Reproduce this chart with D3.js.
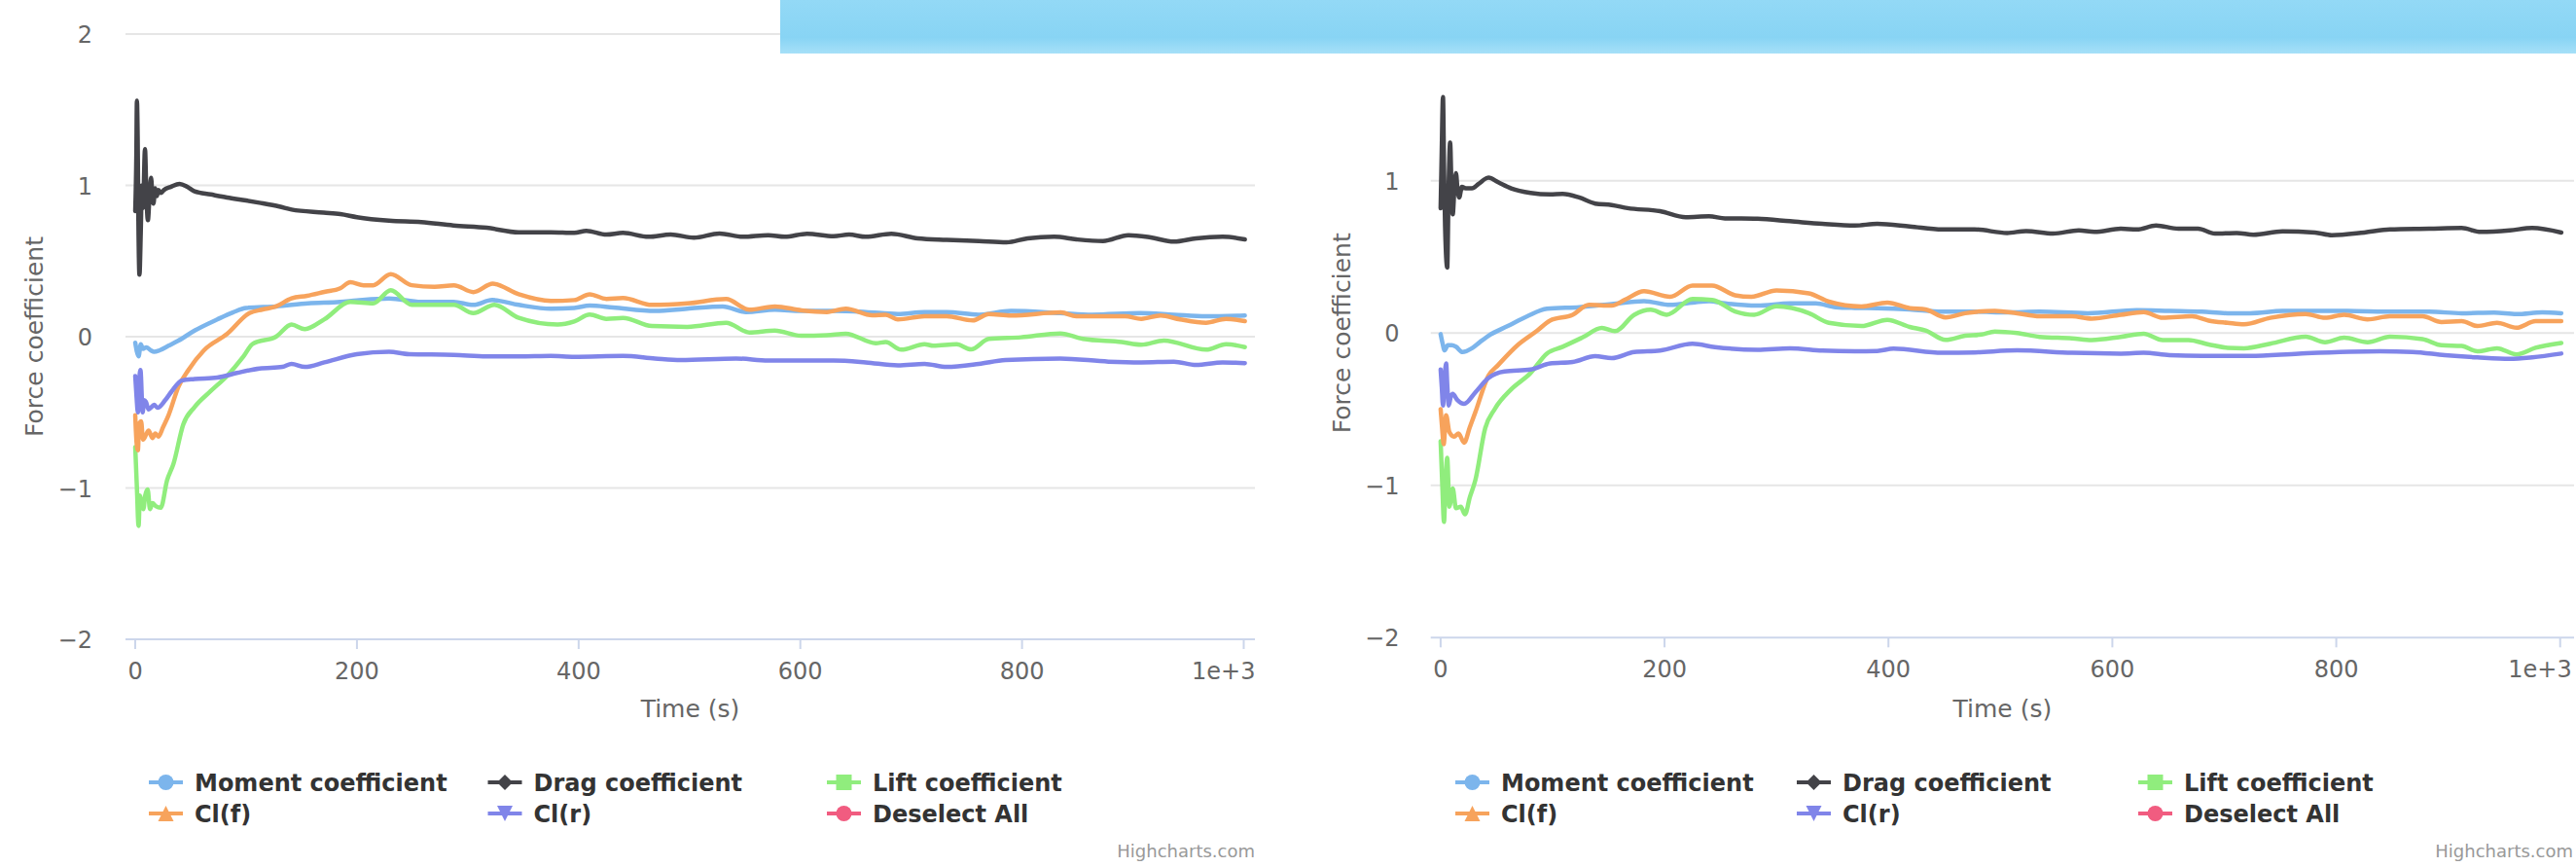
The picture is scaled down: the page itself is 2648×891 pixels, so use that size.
<!DOCTYPE html>
<html>
<head>
<meta charset="utf-8">
<script src="https://cdn.jsdelivr.net/npm/d3@7"></script>
<style>
  html, body { margin: 0; padding: 0; background: #fff; }
  svg { display: block; }
</style>
</head>
<body>
<div id="chart"></div>
<script>
// Force coefficients vs time, two runs side by side (Highcharts look)

const xTicks = [0, 200, 400, 600, 800, 1000];
const yTicks = [-2, -1, 0, 1, 2];

// ---- left run: [time, value]
const momentA = [[0,-0.04],[1.5,-0.10],[3,-0.13],[5,-0.05],[7,-0.08],[10,-0.07],[14,-0.09],[17,-0.10],[22,-0.09],[30,-0.06],[39,-0.026],[53.5,0.04],[74,0.114],[88,0.16],[100,0.19],[127,0.20],[156,0.22],[185,0.23],[200,0.24],[229,0.253],[258,0.23],[287,0.23],[305,0.21],[322,0.242],[346,0.21],[375,0.185],[396,0.19],[410,0.205],[431,0.193],[469,0.17],[498,0.185],[530,0.20],[551,0.163],[577,0.178],[601,0.17],[630,0.17],[659,0.163],[688,0.15],[712,0.163],[732,0.163],[761,0.145],[790,0.17],[834,0.156],[863,0.145],[907,0.156],[937,0.145],[966,0.135],[1001,0.14]];
const dragA = [[0,0.83],[1,1.2],[1.5,1.56],[2.2,1.3],[2.8,0.8],[3.8,0.41],[5,0.7],[6,1.0],[7,0.85],[8.8,1.24],[10,0.95],[11.4,0.77],[13,0.95],[14.3,1.05],[15.5,0.92],[16.4,0.88],[18,0.98],[19.5,0.93],[21,0.97],[23,0.95],[26,0.97],[32,0.99],[40,1.01],[47,0.99],[53.5,0.96],[68,0.94],[82.8,0.92],[100,0.90],[112,0.885],[130,0.86],[141,0.84],[170,0.82],[185,0.81],[200,0.79],[229,0.767],[258,0.757],[287,0.735],[317,0.72],[346,0.69],[375,0.69],[396,0.686],[407,0.70],[425,0.675],[440,0.686],[463,0.66],[483,0.675],[504,0.654],[527,0.682],[548,0.66],[571,0.671],[586,0.66],[606,0.68],[630,0.664],[644,0.675],[659,0.66],[682,0.68],[706,0.65],[732,0.64],[761,0.632],[786,0.624],[805,0.65],[829,0.66],[849,0.643],[873,0.632],[896,0.671],[916,0.656],[937,0.628],[957,0.65],[981,0.66],[1001,0.643]];
const liftA = [[0,-0.73],[1.5,-1.0],[3,-1.25],[4.2,-1.05],[5.3,-1.08],[7.3,-1.14],[9,-1.05],[11.2,-1.01],[13.3,-1.14],[15.5,-1.10],[18.5,-1.12],[23,-1.13],[28.7,-0.95],[34.5,-0.84],[43.3,-0.58],[53.5,-0.465],[68,-0.36],[82.7,-0.26],[97.4,-0.133],[106,-0.047],[127,0.0],[141,0.08],[153,0.05],[170.6,0.115],[194,0.23],[214.6,0.22],[230.5,0.307],[249.5,0.21],[287.5,0.21],[305,0.156],[324,0.21],[346,0.124],[381,0.08],[396,0.10],[410,0.146],[425,0.118],[440,0.124],[466,0.07],[498,0.065],[533,0.092],[554,0.028],[577,0.04],[600.5,0.006],[624,0.01],[641,0.02],[668,-0.043],[677,-0.036],[691,-0.086],[712,-0.05],[720,-0.06],[741,-0.05],[754,-0.084],[770,-0.015],[799,-0.004],[834.5,0.021],[855,-0.015],[890,-0.036],[907.6,-0.053],[928,-0.026],[966,-0.086],[984,-0.05],[1001,-0.069]];
const clfA = [[0,-0.52],[1.2,-0.70],[2.4,-0.75],[3.5,-0.58],[5.3,-0.56],[7,-0.68],[9.6,-0.65],[12,-0.62],[15.5,-0.67],[18,-0.64],[21,-0.66],[25,-0.60],[30,-0.52],[39,-0.33],[48,-0.22],[62,-0.09],[82.7,0.017],[103,0.156],[115,0.18],[127,0.20],[141,0.253],[155,0.27],[170.6,0.296],[185,0.32],[194,0.36],[206,0.34],[214.6,0.34],[230.5,0.413],[249.5,0.34],[270,0.33],[287.5,0.34],[305,0.295],[322.6,0.35],[346,0.28],[375,0.236],[396,0.242],[410,0.28],[425,0.25],[440,0.256],[466,0.21],[498,0.22],[533,0.249],[554,0.178],[577,0.20],[601,0.174],[624,0.163],[641,0.185],[665,0.141],[677,0.145],[688,0.114],[712,0.135],[732,0.135],[755.5,0.107],[770,0.15],[790,0.14],[835,0.16],[849,0.135],[893,0.135],[907.6,0.118],[925,0.14],[942.6,0.114],[966,0.092],[984,0.118],[1001,0.103]];
const clrA = [[0,-0.26],[1.2,-0.40],[2.4,-0.50],[3.5,-0.30],[4.7,-0.22],[6.7,-0.50],[8,-0.42],[9.6,-0.43],[12,-0.48],[14,-0.47],[17,-0.45],[20,-0.47],[27,-0.42],[33,-0.36],[41.9,-0.29],[53.5,-0.28],[74,-0.27],[91.6,-0.24],[112,-0.21],[132.7,-0.20],[141,-0.18],[153,-0.20],[170.6,-0.17],[199.8,-0.116],[229,-0.10],[247,-0.116],[287.5,-0.12],[317,-0.13],[346,-0.13],[375,-0.127],[396,-0.133],[440,-0.127],[469,-0.144],[492,-0.154],[542,-0.144],[571,-0.158],[630,-0.158],[659,-0.17],[688,-0.19],[712,-0.18],[732,-0.20],[761,-0.18],[785,-0.154],[834.5,-0.144],[878,-0.165],[907.6,-0.17],[937,-0.165],[957,-0.187],[981,-0.17],[1001,-0.175]];

// ---- right run
const momentB = [[0,-0.007],[1.5,-0.06],[3.6,-0.114],[6.4,-0.08],[10,-0.08],[13.7,-0.09],[19.5,-0.125],[28,-0.10],[35,-0.06],[42.7,-0.018],[60,0.046],[77.4,0.11],[95,0.159],[124,0.17],[152.8,0.19],[181.7,0.21],[205,0.185],[225,0.20],[240,0.21],[254,0.195],[283,0.18],[312,0.195],[335,0.195],[353,0.17],[370,0.165],[390,0.163],[419,0.155],[448,0.14],[477,0.14],[506,0.135],[535,0.14],[578,0.13],[622,0.15],[651,0.145],[680,0.14],[703,0.13],[723,0.13],[752,0.145],[781,0.146],[810,0.145],[854,0.14],[883,0.14],[912,0.13],[941,0.134],[961,0.124],[984,0.135],[1001,0.13]];
const dragB = [[0,0.82],[1,1.2],[2.1,1.55],[3,1.1],[4,0.7],[5.9,0.43],[7,0.9],[8.5,1.25],[9.7,0.95],[10.8,0.78],[12.3,0.95],[13.7,1.05],[15,0.95],[16.6,0.89],[19,0.96],[22.4,0.95],[28,0.95],[34,0.98],[42.7,1.02],[51.4,0.99],[63,0.95],[80.3,0.92],[97.7,0.91],[109,0.913],[123.7,0.89],[138,0.85],[152.8,0.84],[167,0.82],[196,0.80],[219,0.76],[239.7,0.766],[254,0.753],[283,0.75],[312,0.734],[341,0.717],[370,0.706],[390,0.717],[419,0.70],[448,0.68],[477,0.68],[506,0.657],[523,0.67],[547,0.653],[570,0.674],[584,0.664],[607.5,0.685],[622,0.68],[639,0.706],[659,0.685],[676.5,0.685],[691.6,0.653],[711,0.657],[726,0.646],[752,0.668],[781,0.66],[796,0.642],[825,0.66],[848,0.68],[883,0.685],[912,0.69],[929,0.664],[955,0.674],[975,0.69],[1001,0.66]];
const liftB = [[0,-0.71],[1.5,-1.0],[3,-1.24],[4.5,-0.95],[5.9,-0.82],[7.8,-1.14],[10.8,-1.02],[13.7,-1.15],[18,-1.14],[21.8,-1.19],[26,-1.08],[31,-0.966],[39.8,-0.625],[48.5,-0.497],[63,-0.37],[80.3,-0.263],[94.8,-0.135],[109,-0.09],[126.7,-0.029],[144,0.033],[155.6,0.012],[173,0.12],[187.6,0.153],[202,0.12],[225,0.223],[242.5,0.217],[263,0.142],[280,0.12],[300,0.175],[329,0.13],[346.8,0.067],[375.8,0.046],[399,0.087],[419,0.04],[433.7,0.015],[451,-0.045],[468.5,-0.018],[483,-0.01],[495,0.01],[515,0.0],[535,-0.025],[564,-0.035],[581.5,-0.046],[607.5,-0.025],[628,-0.004],[645,-0.046],[668,-0.046],[686,-0.075],[703,-0.097],[717.6,-0.10],[741,-0.07],[772.7,-0.024],[790,-0.06],[807,-0.03],[828,-0.06],[848,-0.024],[877,-0.04],[894,-0.08],[912,-0.085],[926,-0.12],[943.6,-0.10],[961,-0.14],[978,-0.097],[1001,-0.065]];
const clfB = [[0,-0.50],[1.3,-0.62],[2.7,-0.73],[4.9,-0.54],[7.8,-0.65],[12,-0.68],[16,-0.66],[21,-0.72],[26,-0.62],[31,-0.52],[42.7,-0.28],[51.4,-0.21],[68.7,-0.08],[86,0.014],[97.7,0.082],[118,0.12],[132.4,0.185],[152.8,0.18],[165,0.22],[181.7,0.274],[205,0.238],[225,0.312],[242.5,0.312],[263,0.248],[277.7,0.238],[300,0.28],[329,0.26],[346.8,0.206],[375.8,0.174],[399,0.20],[419,0.163],[433,0.155],[451,0.103],[468.5,0.13],[495,0.146],[515,0.13],[535,0.11],[564,0.11],[581.5,0.095],[607.5,0.12],[628,0.137],[645,0.10],[671,0.11],[686,0.082],[703,0.067],[717.6,0.057],[741,0.10],[772.7,0.125],[790,0.10],[807,0.12],[828,0.09],[848,0.11],[877,0.11],[894,0.072],[912,0.078],[926,0.046],[943.6,0.067],[961,0.035],[978,0.078],[1001,0.078]];
const clrB = [[0,-0.24],[1,-0.35],[2.1,-0.476],[3.5,-0.30],[4.9,-0.20],[6,-0.35],[7.2,-0.476],[9,-0.42],[10.8,-0.40],[15,-0.44],[21,-0.465],[31,-0.39],[42.7,-0.295],[57,-0.252],[80.3,-0.24],[97.7,-0.20],[118,-0.19],[138,-0.152],[152.8,-0.165],[173,-0.125],[196,-0.115],[225,-0.071],[245,-0.092],[283,-0.11],[312,-0.10],[341,-0.115],[370,-0.12],[390,-0.118],[404.6,-0.103],[448,-0.13],[477,-0.127],[515,-0.114],[564,-0.13],[607.5,-0.135],[628,-0.13],[651,-0.145],[680,-0.15],[723,-0.15],[766.5,-0.135],[839,-0.12],[868,-0.124],[897,-0.145],[926,-0.16],[955,-0.17],[975,-0.16],[1001,-0.135]];

const seriesNames = ["Moment coefficient", "Drag coefficient", "Lift coefficient", "Cl(f)", "Cl(r)", "Deselect All"];
const seriesColors = ["#7cb5ec", "#434348", "#90ed7d", "#f7a35c", "#8085e9", "#f15c80"];
const seriesSymbols = ["circle", "diamond", "square", "triangle", "triangle-down", "circle"];

const W = 2648, H = 891;
const font = "'DejaVu Sans', Verdana, sans-serif";

const svg = d3.select("#chart").append("svg")
    .attr("width", W)
    .attr("height", H)
    .attr("viewBox", `0 0 ${W} ${H}`);

// marker path like the highcharts ones
function symbolPath(type, cx, cy, r) {
    if (type === "circle") {
        return `M${cx - r},${cy}a${r},${r} 0 1,0 ${2 * r},0a${r},${r} 0 1,0 ${-2 * r},0Z`;
    }
    if (type === "diamond") return `M${cx},${cy - r}L${cx + r},${cy}L${cx},${cy + r}L${cx - r},${cy}Z`;
    if (type === "square") return `M${cx - r},${cy - r}h${2 * r}v${2 * r}h${-2 * r}Z`;
    if (type === "triangle") return `M${cx},${cy - r}L${cx + r},${cy + r}L${cx - r},${cy + r}Z`;
    return `M${cx - r},${cy - r}L${cx + r},${cy - r}L${cx},${cy + r}Z`;
}

function drawPanel(p) {
    const g = svg.append("g");

    const x = d3.scaleLinear().domain(p.xDomain).range([p.left, p.right]);
    const y = d3.scaleLinear().domain([-2, 2]).range([p.bottom, p.top]);

    // gridlines
    g.selectAll(".grid")
        .data(yTicks.filter(d => d !== -2))
        .join("line")
        .attr("x1", p.left).attr("x2", p.right)
        .attr("y1", d => y(d)).attr("y2", d => y(d))
        .attr("stroke", "#e6e6e6")
        .attr("stroke-width", 2);

    // y labels
    g.selectAll(".ylab")
        .data(yTicks)
        .join("text")
        .attr("x", p.yLabelX)
        .attr("y", d => y(d) + 9)
        .attr("text-anchor", "end")
        .attr("fill", "#666")
        .style("font-family", font)
        .style("font-size", "24px")
        .text(d => d < 0 ? "\u2212" + Math.abs(d) : d);

    // y title
    g.append("text")
        .attr("transform", `translate(${p.yTitleX},${(p.top + p.bottom) / 2}) rotate(-90)`)
        .attr("text-anchor", "middle")
        .attr("dy", "0.35em")
        .attr("fill", "#666")
        .style("font-family", font)
        .style("font-size", "25px")
        .text("Force coefficient");

    // x axis line + ticks
    g.append("line")
        .attr("x1", p.left).attr("x2", p.right)
        .attr("y1", p.bottom).attr("y2", p.bottom)
        .attr("stroke", "#ccd6eb")
        .attr("stroke-width", 2);

    g.selectAll(".xtick")
        .data(xTicks)
        .join("line")
        .attr("x1", d => x(d)).attr("x2", d => x(d))
        .attr("y1", p.bottom).attr("y2", p.bottom + 10)
        .attr("stroke", "#ccd6eb")
        .attr("stroke-width", 2);

    g.selectAll(".xlab")
        .data(xTicks)
        .join("text")
        .attr("x", d => x(d))
        .attr("y", p.bottom + 41)
        .attr("text-anchor", d => d === 1000 ? "end" : "middle")
        .attr("dx", d => d === 1000 ? 12 : 0)
        .attr("fill", "#666")
        .style("font-family", font)
        .style("font-size", "24px")
        .text(d => d === 1000 ? "1e+3" : d);

    g.append("text")
        .attr("x", (p.left + p.right) / 2)
        .attr("y", 737)
        .attr("text-anchor", "middle")
        .attr("fill", "#666")
        .style("font-family", font)
        .style("font-size", "25px")
        .text("Time (s)");

    // lines
    const line = d3.line()
        .x(d => x(d[0]))
        .y(d => y(d[1]))
        .curve(d3.curveMonotoneX);

    p.series.forEach((data, i) => {
        g.append("path")
            .datum(data)
            .attr("d", line)
            .attr("fill", "none")
            .attr("stroke", seriesColors[i])
            .attr("stroke-width", 4.5)
            .attr("stroke-linejoin", "round")
            .attr("stroke-linecap", "round");
    });

    // legend, 3 columns x 2 rows
    const legend = g.append("g");
    seriesNames.forEach((name, i) => {
        const col = i % 3, row = Math.floor(i / 3);
        const lx = p.legendX + col * p.legendCol;
        const ly = 804 + row * 32;
        const item = legend.append("g");
        item.append("line")
            .attr("x1", lx).attr("x2", lx + 35)
            .attr("y1", ly).attr("y2", ly)
            .attr("stroke", seriesColors[i])
            .attr("stroke-width", 4);
        item.append("path")
            .attr("d", symbolPath(seriesSymbols[i], lx + 17.5, ly, 8))
            .attr("fill", seriesColors[i]);
        item.append("text")
            .attr("x", lx + 47)
            .attr("y", ly + 8.5)
            .attr("fill", "#333")
            .style("font-family", font)
            .style("font-size", "24px")
            .style("font-weight", "bold")
            .text(name);
    });

    g.append("text")
        .attr("x", p.creditX)
        .attr("y", 881)
        .attr("text-anchor", "end")
        .attr("fill", "#999")
        .style("font-family", font)
        .style("font-size", "18px")
        .text("Highcharts.com");
}

drawPanel({
    left: 129, right: 1290, top: 35, bottom: 657,
    xDomain: [-8.8, 1010.1],
    yLabelX: 95, yTitleX: 35,
    legendX: 153, legendCol: 348.5,
    creditX: 1290,
    series: [momentA, dragA, liftA, clfA, clrA]
});

drawPanel({
    left: 1470.7, right: 2646, top: 29.2, bottom: 655.3,
    xDomain: [-8.86, 1012.4],
    yLabelX: 1438.5, yTitleX: 1379,
    legendX: 1496, legendCol: 351,
    creditX: 2645,
    series: [momentB, dragB, liftB, clfB, clrB]
});

// light blue page banner sitting over the top of the charts
const defs = svg.append("defs");
const grad = defs.append("linearGradient")
    .attr("id", "banner")
    .attr("x1", 0).attr("y1", 0).attr("x2", 0).attr("y2", 1);
grad.append("stop").attr("offset", "0%").attr("stop-color", "#93d9f6");
grad.append("stop").attr("offset", "70%").attr("stop-color", "#88d4f4");
grad.append("stop").attr("offset", "100%").attr("stop-color", "#a6e0f8");

svg.append("rect")
    .attr("x", 802).attr("y", 0)
    .attr("width", W - 802).attr("height", 55)
    .attr("fill", "url(#banner)");
</script>
</body>
</html>
